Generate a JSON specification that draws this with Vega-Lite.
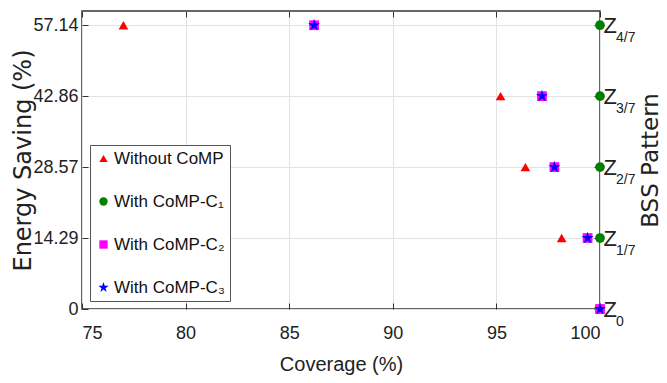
{
  "$schema": "https://vega.github.io/schema/vega-lite/v6.json",
  "width": 518,
  "height": 298,
  "autosize": {"type": "none"},
  "padding": {"left": 82, "top": 11, "right": 67, "bottom": 74},
  "background": "white",
  "config": {
    "view": {"stroke": "#333333", "strokeWidth": 1.5},
    "font": "Liberation Sans"
  },
  "datasets": {
    "points": [
      {"series": "Without CoMP", "coverage": 77.0, "saving": 57.14},
      {"series": "Without CoMP", "coverage": 95.2, "saving": 42.86},
      {"series": "Without CoMP", "coverage": 96.4, "saving": 28.57},
      {"series": "Without CoMP", "coverage": 98.15, "saving": 14.29},
      {"series": "Without CoMP", "coverage": 100.0, "saving": 0},
      {"series": "With CoMP-C₁", "coverage": 100.0, "saving": 57.14},
      {"series": "With CoMP-C₁", "coverage": 100.0, "saving": 42.86},
      {"series": "With CoMP-C₁", "coverage": 100.0, "saving": 28.57},
      {"series": "With CoMP-C₁", "coverage": 100.0, "saving": 14.29},
      {"series": "With CoMP-C₁", "coverage": 100.0, "saving": 0},
      {"series": "With CoMP-C₂", "coverage": 86.2, "saving": 57.14},
      {"series": "With CoMP-C₂", "coverage": 97.2, "saving": 42.86},
      {"series": "With CoMP-C₂", "coverage": 97.8, "saving": 28.57},
      {"series": "With CoMP-C₂", "coverage": 99.4, "saving": 14.29},
      {"series": "With CoMP-C₂", "coverage": 100.0, "saving": 0},
      {"series": "With CoMP-C₃", "coverage": 86.2, "saving": 57.14},
      {"series": "With CoMP-C₃", "coverage": 97.2, "saving": 42.86},
      {"series": "With CoMP-C₃", "coverage": 97.8, "saving": 28.57},
      {"series": "With CoMP-C₃", "coverage": 99.4, "saving": 14.29},
      {"series": "With CoMP-C₃", "coverage": 100.0, "saving": 0}
    ],
    "zlabels": [
      {"level": 57.14, "sub": "4/7"},
      {"level": 42.86, "sub": "3/7"},
      {"level": 28.57, "sub": "2/7"},
      {"level": 14.29, "sub": "1/7"},
      {"level": 0, "sub": "0"}
    ]
  },
  "layer": [
    {
      "data": {"name": "points"},
      "mark": {"type": "point", "filled": true, "opacity": 1, "size": 95, "strokeWidth": 0},
      "encoding": {
        "x": {
          "field": "coverage", "type": "quantitative",
          "scale": {"domain": [75, 100], "nice": false, "zero": false},
          "axis": {
            "orient": "bottom",
            "values": [75, 80, 85, 90, 95, 100],
            "title": "Coverage (%)",
            "grid": true, "gridColor": "#e2e2e2", "gridWidth": 1,
            "domain": false,
            "tickSize": -6, "tickColor": "#333333", "tickWidth": 1,
            "labelFont": "Liberation Sans", "labelFontSize": 18, "labelColor": "#222222",
            "labelPadding": 21,
            "titleFont": "Liberation Sans", "titleFontSize": 20, "titleFontWeight": "normal",
            "titleColor": "#222222", "titlePadding": 12
          }
        },
        "y": {
          "field": "saving", "type": "quantitative",
          "scale": {"domain": [0, 60], "nice": false},
          "axis": {
            "orient": "left",
            "values": [0, 14.29, 28.57, 42.86, 57.14],
            "labelExpr": "datum.value == 0 ? '0' : format(datum.value, '.2f')",
            "title": "Energy Saving (%)",
            "grid": true, "gridColor": "#e2e2e2", "gridWidth": 1,
            "domain": false,
            "tickSize": -6, "tickColor": "#333333", "tickWidth": 1,
            "labelFont": "Liberation Sans", "labelFontSize": 18, "labelColor": "#222222",
            "labelPadding": 10,
            "titleFont": "DejaVu Sans", "titleFontSize": 24, "titleFontWeight": "normal",
            "titleColor": "#222222", "titlePadding": -3
          }
        },
        "color": {
          "field": "series", "type": "nominal",
          "scale": {
            "domain": ["Without CoMP", "With CoMP-C₁", "With CoMP-C₂", "With CoMP-C₃"],
            "range": ["#ff0000", "#008000", "#ff00ff", "#0000ff"]
          },
          "legend": {
            "title": null,
            "orient": "bottom-left",
            "offset": 8,
            "fillColor": "white",
            "strokeColor": "#555555",
            "padding": 5,
            "labelFont": "Liberation Sans",
            "labelFontSize": 17,
            "labelColor": "#111111",
            "labelOffset": 2,
            "symbolSize": 70,
            "symbolStrokeWidth": 0,
            "rowPadding": 25
          }
        },
        "shape": {
          "field": "series", "type": "nominal",
          "scale": {
            "domain": ["Without CoMP", "With CoMP-C₁", "With CoMP-C₂", "With CoMP-C₃"],
            "range": ["triangle-up", "circle", "square", "M0,-1.3L0.292,-0.402L1.236,-0.402L0.472,0.153L0.764,1.052L0,0.497L-0.764,1.052L-0.472,0.153L-1.236,-0.402L-0.292,-0.402Z"]
          }
        }
      }
    },
    {
      "data": {"name": "zlabels"},
      "mark": {
        "type": "text", "align": "left", "baseline": "alphabetic",
        "dx": 16, "dy": 17, "fontSize": 14, "font": "Liberation Sans", "color": "#222222"
      },
      "encoding": {
        "x": {
          "datum": 100, "type": "quantitative",
          "scale": {"domain": [75, 100], "nice": false, "zero": false},
          "axis": {
            "orient": "top",
            "values": [75, 80, 85, 90, 95, 100],
            "labels": false, "title": null, "grid": false, "domain": false,
            "tickSize": -6, "tickColor": "#333333", "tickWidth": 1
          }
        },
        "y": {
          "field": "level", "type": "quantitative",
          "scale": {"domain": [0, 60], "nice": false},
          "axis": {
            "orient": "right",
            "values": [0, 14.29, 28.57, 42.86, 57.14],
            "labelExpr": "'Z'",
            "labelFont": "Liberation Sans", "labelFontSize": 22, "labelColor": "#222222",
            "labelPadding": 9,
            "grid": false, "domain": false,
            "tickSize": -6, "tickColor": "#333333", "tickWidth": 1,
            "title": "BSS Pattern",
            "titleAngle": 270, "titleBaseline": "top",
            "titleFont": "DejaVu Sans", "titleFontSize": 23, "titleFontWeight": "normal",
            "titleColor": "#222222", "titlePadding": 23
          }
        },
        "text": {"field": "sub", "type": "nominal"}
      }
    }
  ],
  "resolve": {"scale": {"x": "independent", "y": "independent"}}
}
